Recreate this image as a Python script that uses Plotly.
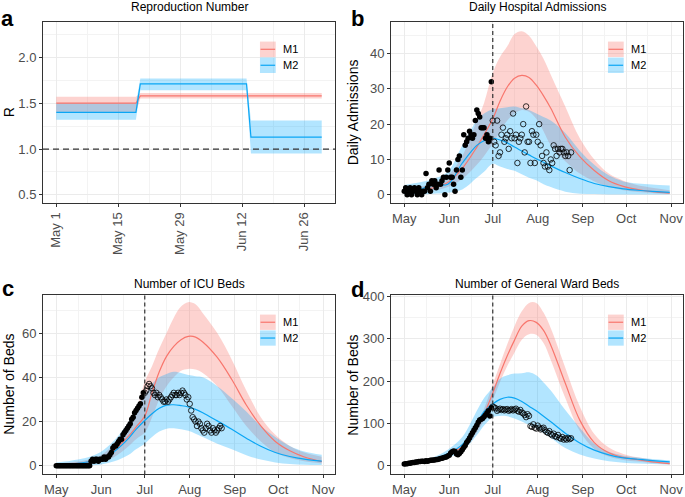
import pandas as pd
import plotly.graph_objects as go

# ---------------- DATA ----------------
model_names = ["M1", "M2"]
cutoff_date = "2020-07-01"
r_threshold = 1.0

# Panel a: reproduction number
r_dates = ["2020-05-01", "2020-05-19", "2020-05-20", "2020-06-13", "2020-06-14", "2020-06-30"]
r_m1_med = [1.50, 1.50, 1.58, 1.58, 1.58, 1.58]
r_m1_lo = [1.40, 1.40, 1.55, 1.55, 1.55, 1.55]
r_m1_hi = [1.57, 1.57, 1.61, 1.61, 1.61, 1.61]
r_m2_med = [1.40, 1.40, 1.71, 1.71, 1.13, 1.13]
r_m2_lo = [1.32, 1.32, 1.64, 1.64, 0.95, 0.95]
r_m2_hi = [1.50, 1.50, 1.77, 1.77, 1.31, 1.31]
r_tick_vals = ["2020-05-01", "2020-05-15", "2020-05-29", "2020-06-12", "2020-06-26"]
r_tick_text = ["May 1", "May 15", "May 29", "Jun 12", "Jun 26"]
r_minor_vals = ["2020-05-08", "2020-05-22", "2020-06-05", "2020-06-19", "2020-07-03"]

# Model projection dates (panels b-d)
model_dates = ["2020-05-01", "2020-05-11", "2020-05-21", "2020-05-31", "2020-06-10", "2020-06-20",
               "2020-06-25", "2020-07-01", "2020-07-06", "2020-07-11", "2020-07-16", "2020-07-21",
               "2020-07-26", "2020-07-31", "2020-08-05", "2020-08-10", "2020-08-20", "2020-08-30",
               "2020-09-09", "2020-09-19", "2020-09-29", "2020-10-09", "2020-10-19", "2020-10-31"]

# Panel b: daily admissions
adm_m1_med = [1.0, 1.3, 2.0, 3.5, 7.5, 13.5, 17.0, 21.5, 26.5, 30.5, 33.0, 33.8,
              33.2, 31.0, 28.0, 24.5, 16.3, 10.8, 6.9, 4.0, 2.4, 1.5, 0.9, 0.5]
adm_m1_hi = [1.5, 2.2, 3.3, 5.5, 11.0, 21.0, 26.0, 34.5, 39.0, 42.0, 45.5, 46.3,
             45.0, 42.0, 38.5, 34.0, 25.0, 16.0, 10.0, 6.0, 4.0, 2.7, 2.0, 1.3]
adm_m1_lo = [0.5, 0.8, 1.2, 2.2, 4.5, 8.5, 11.0, 14.5, 18.0, 21.0, 23.0, 24.0,
             23.5, 21.5, 18.0, 14.0, 9.5, 6.0, 3.8, 2.3, 1.3, 0.8, 0.5, 0.25]
adm_m2_med = [1.0, 1.5, 2.8, 3.0, 9.0, 14.0, 15.3, 16.0, 15.5, 14.7, 13.5, 12.4,
              11.3, 10.2, 9.2, 8.2, 6.3, 4.6, 3.2, 2.3, 1.7, 1.3, 1.0, 0.7]
adm_m2_hi = [2.8, 3.5, 4.5, 6.5, 14.0, 21.0, 23.0, 24.2, 24.5, 24.8, 25.0, 24.5,
             24.0, 23.0, 22.0, 21.0, 17.5, 12.5, 8.5, 5.5, 3.8, 3.2, 2.9, 2.6]
adm_m2_lo = [0.0, 0.1, 0.3, 0.6, 1.5, 4.8, 6.5, 8.8, 8.0, 7.3, 6.8, 5.8,
             4.8, 4.1, 3.0, 2.2, 0.9, 0.3, 0.2, 0.1, 0.1, 0.1, 0.1, 0.1]
adm_fit_obs = [1, 2, 0, 1, 2, 0, 1, 2, 1, 0,
               2, 1, 0, 1, 1, 6, 2, 3, 1, 4,
               3, 4, 2, 3, 7, 3, 4, 5, 0, 5, 7,
               9, 5, 5, 3, 1, 7, 10, 11, 5, 7,
               17, 14, 15, 16, 18, 17, 16, 17, 21, 24,
               23, 22, 19, 19, 19, 16, 17, 15, 16, 32]
adm_val_obs = [21, 15, 14, 21, 11, 12, 17, 19, 15, 16,
               17, 13, 18, 16, 23, 16, 17, 9, 15, 16,
               17, 20, 12, 25, 15, 15, 9, 18, 17, 9, 17,
               15, 20, 14, 11, 9, 8, 12, 8, 7, 10,
               9, 14, 13, 11, 13, 12, 13, 13, 12, 11,
               12, 11, 7, 12]

# Panel c: ICU beds
icu_m1_med = [0.5, 0.9, 1.5, 2.8, 7.0, 13.5, 17.5, 22.5, 33.0, 42.5, 49.5, 54.0,
              57.0, 58.5, 58.2, 56.0, 49.0, 39.0, 27.5, 18.0, 11.0, 6.8, 4.0, 1.9]
icu_m1_hi = [1.0, 1.6, 2.5, 4.5, 10.0, 19.0, 25.0, 38.0, 45.0, 53.0, 60.0, 67.0,
             72.0, 74.0, 73.0, 69.0, 60.0, 48.0, 34.0, 22.0, 14.0, 9.0, 6.0, 4.1]
icu_m1_lo = [0.2, 0.4, 0.8, 1.5, 4.0, 9.0, 12.0, 15.0, 22.0, 30.0, 36.0, 40.0,
             43.0, 43.8, 43.5, 42.0, 36.0, 27.0, 18.0, 11.0, 6.0, 3.5, 2.0, 1.0]
icu_m2_med = [0.5, 0.9, 1.6, 2.8, 6.5, 12.5, 16.5, 20.5, 23.5, 26.0, 27.4, 27.6,
              27.2, 26.6, 25.5, 24.0, 20.3, 16.5, 12.5, 8.8, 6.0, 4.2, 3.0, 2.1]
icu_m2_hi = [1.5, 2.3, 3.5, 6.0, 11.5, 20.0, 26.0, 32.0, 37.0, 40.0, 41.5, 42.5,
             42.0, 41.0, 40.5, 40.0, 36.0, 30.5, 24.5, 18.0, 13.0, 9.0, 6.5, 5.0]
icu_m2_lo = [0.0, 0.1, 0.2, 0.5, 2.0, 5.0, 7.5, 10.0, 13.0, 15.5, 16.8, 17.0,
             16.5, 15.8, 14.5, 13.0, 10.0, 7.5, 4.8, 2.8, 1.5, 0.8, 0.5, 0.3]
icu_fit_obs = [0] * 24 + [2, 3, 2, 3, 3, 2, 3,
                          3, 3, 4, 3, 4, 4, 5, 6, 8, 9,
                          9, 10, 11, 12, 12, 14, 15, 16, 17, 18,
                          19, 21, 22, 24, 25, 26, 27, 28, 31, 33]
icu_val_obs = [33, 34, 36, 37, 36, 35, 33, 32, 33, 31,
               32, 31, 30, 29, 29, 30, 29, 30, 31, 32,
               33, 32, 32, 33, 32, 33, 34, 33, 32, 30, 31,
               28, 25, 22, 21, 20, 18, 20, 19, 17, 16,
               15, 17, 19, 18, 16, 15, 17, 16, 15, 16,
               17, 18, 17]

# Panel d: general ward beds
ward_m1_med = [4, 8, 14, 28, 45, 90, 122, 172, 218, 260, 297, 330,
               343, 339, 320, 285, 195, 108, 55, 31, 20, 14.5, 9.5, 5.4]
ward_m1_hi = [5, 9, 16, 31, 52, 100, 135, 192, 240, 287, 330, 365,
              385, 385, 362, 325, 232, 140, 75, 43, 28, 20, 14, 9.3]
ward_m1_lo = [3, 7, 12, 24, 38, 78, 108, 155, 198, 236, 268, 298,
              311, 310, 290, 250, 160, 82, 40, 22, 14, 10, 6.5, 3.1]
ward_m2_med = [4, 8, 15, 29, 50, 100, 128, 146, 157, 162, 160, 152,
               141, 130, 117, 104, 77, 54, 37, 26, 19, 15.5, 12.5, 9.3]
ward_m2_hi = [6, 11, 20, 38, 68, 130, 160, 185, 206, 214, 218, 219,
              221, 214, 197, 178, 132, 90, 52, 33, 24, 19.5, 16, 13]
ward_m2_lo = [2.5, 5.5, 10, 19, 35, 72, 95, 115, 118, 117, 112, 105,
              97, 88, 77, 66, 42, 27, 17, 10.5, 7.5, 5.5, 4.5, 3]
ward_fit_obs = [4, 5, 5, 6, 6, 7, 8, 8, 9, 9,
                10, 10, 11, 11, 10, 12, 11, 12, 13, 13,
                14, 14, 15, 15, 16, 17, 18, 19, 20, 21, 23,
                25, 30, 33, 35, 34, 28, 26, 29, 33, 38,
                43, 48, 55, 60, 66, 72, 78, 84, 90, 96,
                103, 108, 110, 112, 116, 120, 125, 130, 118, 137]
ward_val_obs = [140, 138, 136, 130, 133, 135, 132, 134, 131, 133,
                134, 130, 132, 134, 131, 133, 135, 130, 128, 132,
                126, 124, 120, 115, 122, 118, 94, 92, 98, 90, 88,
                95, 90, 86, 88, 90, 84, 80, 78, 82, 75,
                72, 76, 70, 68, 73, 66, 64, 68, 62, 65,
                62, 66, 63, 65]

month_tick_vals = ["2020-05-01", "2020-06-01", "2020-07-01", "2020-08-01", "2020-09-01", "2020-10-01", "2020-11-01"]
month_tick_text = ["May", "Jun", "Jul", "Aug", "Sep", "Oct", "Nov"]
month_minor_vals = ["2020-04-16", "2020-05-16", "2020-06-16", "2020-07-16", "2020-08-16", "2020-09-16", "2020-10-16", "2020-11-16"]

# ---------------- STYLE ----------------
FONT = "Liberation Sans, Arial, Helvetica, sans-serif"
C1_LINE = "#F8766D"
C2_LINE = "#0AA6F5"
C1_FILL = "rgba(248,118,109,0.32)"
C2_FILL = "rgba(0,169,255,0.30)"
GRID = "#EBEBEB"
GRID_MINOR = "#F3F3F3"
BORDER = "#333333"
TICKFONT = dict(family=FONT, size=13, color="#4D4D4D")

fit_dates = pd.date_range("2020-05-01", periods=len(adm_fit_obs), freq="D")
val_dates_adm = pd.date_range(cutoff_date, periods=len(adm_val_obs), freq="D")
val_dates_icu = pd.date_range(cutoff_date, periods=len(icu_val_obs), freq="D")
val_dates_ward = pd.date_range(cutoff_date, periods=len(ward_val_obs), freq="D")

fig = go.Figure()


def band(xs, lo, hi, fill, xa, ya, shape):
    fig.add_trace(go.Scatter(x=xs, y=hi, mode="lines", line=dict(width=0, shape=shape),
                             xaxis=xa, yaxis=ya, showlegend=False, hoverinfo="skip"))
    fig.add_trace(go.Scatter(x=xs, y=lo, mode="lines", line=dict(width=0, shape=shape),
                             fill="tonexty", fillcolor=fill, xaxis=xa, yaxis=ya,
                             showlegend=False, hoverinfo="skip"))


def line(xs, ys, color, xa, ya, shape):
    fig.add_trace(go.Scatter(x=xs, y=ys, mode="lines", line=dict(width=1.2, color=color, shape=shape),
                             xaxis=xa, yaxis=ya, showlegend=False))


def points(xs, ys, xa, ya, open_marker):
    if open_marker:
        mk = dict(symbol="circle-open", size=5.5, color="black", line=dict(width=0.8))
    else:
        mk = dict(symbol="circle", size=5.5, color="black")
    fig.add_trace(go.Scatter(x=xs, y=ys, mode="markers", marker=mk, xaxis=xa, yaxis=ya, showlegend=False))


# Panel a
band(r_dates, r_m1_lo, r_m1_hi, C1_FILL, "x", "y", "linear")
band(r_dates, r_m2_lo, r_m2_hi, C2_FILL, "x", "y", "linear")
line(r_dates, r_m1_med, C1_LINE, "x", "y", "linear")
line(r_dates, r_m2_med, C2_LINE, "x", "y", "linear")

panel_series = [
    ("x2", "y2", adm_m1_lo, adm_m1_hi, adm_m1_med, adm_m2_lo, adm_m2_hi, adm_m2_med,
     adm_fit_obs, adm_val_obs, val_dates_adm),
    ("x3", "y3", icu_m1_lo, icu_m1_hi, icu_m1_med, icu_m2_lo, icu_m2_hi, icu_m2_med,
     icu_fit_obs, icu_val_obs, val_dates_icu),
    ("x4", "y4", ward_m1_lo, ward_m1_hi, ward_m1_med, ward_m2_lo, ward_m2_hi, ward_m2_med,
     ward_fit_obs, ward_val_obs, val_dates_ward),
]
for xa, ya, l1, h1, m1, l2, h2, m2, fobs, vobs, vdates in panel_series:
    band(model_dates, l1, h1, C1_FILL, xa, ya, "spline")
    band(model_dates, l2, h2, C2_FILL, xa, ya, "spline")
    line(model_dates, m1, C1_LINE, xa, ya, "spline")
    line(model_dates, m2, C2_LINE, xa, ya, "spline")
    points(fit_dates, fobs, xa, ya, False)
    points(vdates, vobs, xa, ya, True)

# ---------------- LAYOUT ----------------
W, H = 685, 497
xdom_left = [43 / W, 335 / W]
xdom_right = [391 / W, 683 / W]
ydom_top = [1 - 202 / H, 1 - 16 / H]
ydom_bot = [1 - 480 / H, 1 - 296 / H]

pad_a = pd.Timedelta(days=3.0)
pad_m = pd.Timedelta(days=9.15)
range_a = [pd.Timestamp(r_dates[0]) - pad_a, pd.Timestamp(r_dates[-1]) + pad_a]
range_m = [pd.Timestamp(model_dates[0]) - pad_m, pd.Timestamp(model_dates[-1]) + pad_m]


def xaxis(dom, anchor, rng, tv, tt, minor_vals, angle):
    return dict(domain=dom, anchor=anchor, type="date", range=[str(r) for r in rng],
                tickmode="array", tickvals=tv, ticktext=tt, tickangle=angle,
                tickfont=TICKFONT, ticks="outside", ticklen=3, tickcolor=BORDER, tickwidth=1,
                showgrid=True, gridcolor=GRID, gridwidth=1,
                minor=dict(tickmode="array", tickvals=minor_vals, showgrid=True,
                           gridcolor=GRID_MINOR, gridwidth=0.6, ticks=""),
                showline=True, mirror=True, linecolor=BORDER, linewidth=1, zeroline=False)


def yaxis(dom, anchor, rng, tick0, dtick, minor_dtick, fmt):
    return dict(domain=dom, anchor=anchor, range=rng, tickmode="linear", tick0=tick0, dtick=dtick,
                tickformat=fmt,
                tickfont=TICKFONT, ticks="outside", ticklen=3, tickcolor=BORDER, tickwidth=1,
                showgrid=True, gridcolor=GRID, gridwidth=1,
                minor=dict(tick0=tick0, dtick=minor_dtick, showgrid=True,
                           gridcolor=GRID_MINOR, gridwidth=0.6, ticks=""),
                showline=True, mirror=True, linecolor=BORDER, linewidth=1, zeroline=False)


fig.update_layout(
    width=W, height=H, margin=dict(l=0, r=0, t=0, b=0),
    paper_bgcolor="white", plot_bgcolor="white", showlegend=False,
    font=dict(family=FONT, color="black"),
    xaxis=xaxis(xdom_left, "y", range_a, r_tick_vals, r_tick_text, r_minor_vals, -90),
    yaxis=yaxis(ydom_top, "x", [0.41, 2.39], 0.5, 0.5, 0.25, ".1f"),
    xaxis2=xaxis(xdom_right, "y2", range_m, month_tick_vals, month_tick_text, month_minor_vals, 0),
    yaxis2=yaxis(ydom_top, "x2", [-2.35, 49.0], 0, 10, 5, "d"),
    xaxis3=xaxis(xdom_left, "y3", range_m, month_tick_vals, month_tick_text, month_minor_vals, 0),
    yaxis3=yaxis(ydom_bot, "x3", [-3.9, 77.3], 0, 20, 10, "d"),
    xaxis4=xaxis(xdom_right, "y4", range_m, month_tick_vals, month_tick_text, month_minor_vals, 0),
    yaxis4=yaxis(ydom_bot, "x4", [-20.3, 404], 0, 100, 50, "d"),
)

# Reference lines
fig.add_shape(type="line", xref="x domain", yref="y", x0=0, x1=1, y0=r_threshold, y1=r_threshold,
              line=dict(color="#333333", width=1.3, dash="6px,4px"), layer="above")
for xa, ya in [("x2", "y2"), ("x3", "y3"), ("x4", "y4")]:
    fig.add_shape(type="line", xref=xa, yref=f"{ya} domain", x0=cutoff_date, x1=cutoff_date, y0=0, y1=1,
                  line=dict(color="#333333", width=1.2, dash="4px,3px"), layer="above")

# Titles, axis titles, panel labels, legends
titles = [("x", "y", "Reproduction Number", 6), ("x2", "y2", "Daily Hospital Admissions", 6),
          ("x3", "y3", "Number of ICU Beds", 2), ("x4", "y4", "Number of General Ward Beds", 2)]
for xa, ya, txt, ys in titles:
    fig.add_annotation(text=txt, xref=f"{xa} domain", yref=f"{ya} domain", x=0.5, y=1,
                       xanchor="center", yanchor="bottom", yshift=ys, showarrow=False,
                       font=dict(family=FONT, size=12, color="black"))

ytitles = [("R", 9, 109), ("Daily Admissions", 353, 109), ("Number of Beds", 9, 388), ("Number of Beds", 353, 388)]
for txt, px, py in ytitles:
    fig.add_annotation(text=txt, xref="paper", yref="paper", x=px / W, y=1 - py / H, textangle=-90,
                       xanchor="center", yanchor="middle", showarrow=False,
                       font=dict(family=FONT, size=14, color="black"))

labels = [("a", 8, 13), ("b", 357, 13), ("c", 8, 290), ("d", 357, 291)]
for txt, px, py in labels:
    fig.add_annotation(text=f"<b>{txt}</b>", xref="paper", yref="paper", x=px / W, y=1 - py / H,
                       xanchor="center", yanchor="middle", showarrow=False,
                       font=dict(family=FONT, size=22, color="black"))

for xa, ya in [("x", "y"), ("x2", "y2"), ("x3", "y3"), ("x4", "y4")]:
    keys = [(model_names[0], C1_FILL, C1_LINE, 0.805, 0.89), (model_names[1], C2_FILL, C2_LINE, 0.717, 0.802)]
    for name, fillc, linec, y0, y1 in keys:
        fig.add_shape(type="rect", xref=f"{xa} domain", yref=f"{ya} domain", x0=0.743, x1=0.797,
                      y0=y0, y1=y1, fillcolor=fillc, line=dict(width=0), layer="above")
        fig.add_shape(type="line", xref=f"{xa} domain", yref=f"{ya} domain", x0=0.745, x1=0.795,
                      y0=(y0 + y1) / 2, y1=(y0 + y1) / 2, line=dict(color=linec, width=1.2), layer="above")
        fig.add_annotation(text=name, xref=f"{xa} domain", yref=f"{ya} domain", x=0.815, y=(y0 + y1) / 2,
                           xanchor="left", yanchor="middle", showarrow=False,
                           font=dict(family=FONT, size=11, color="black"))

fig.write_html("out.html", config={"displayModeBar": False},
               post_script="document.body.style.margin='0px';")
